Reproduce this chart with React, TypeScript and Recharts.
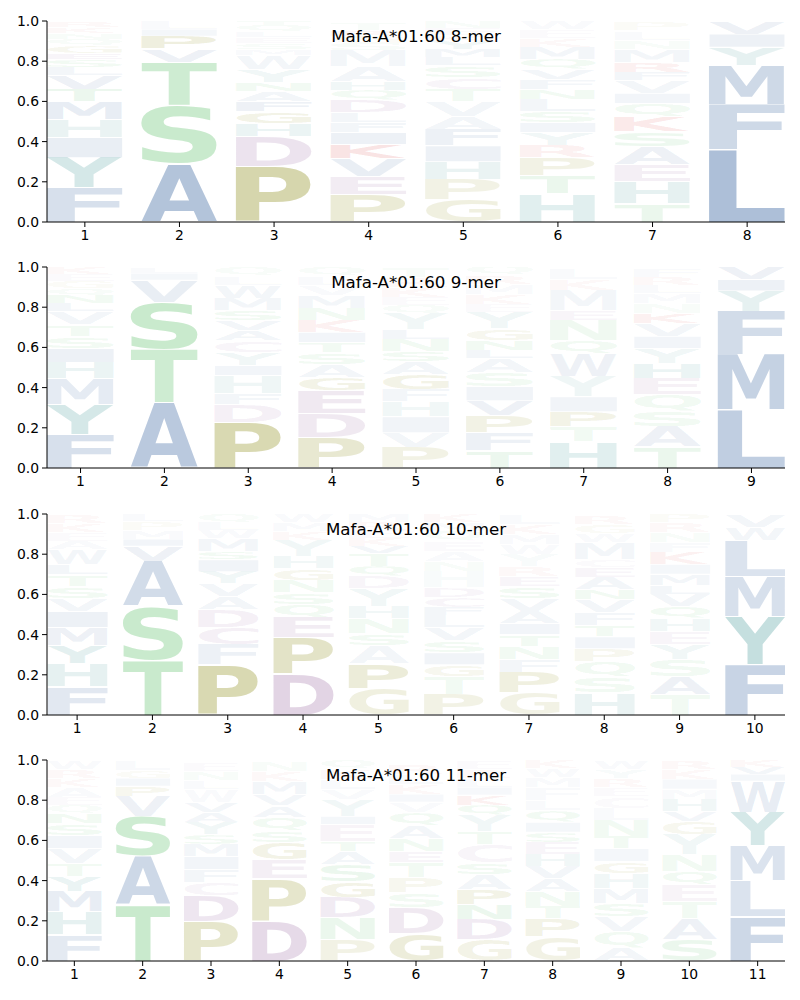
import React from 'react'
import { BarChart, Bar, XAxis, YAxis } from 'recharts'

// [letter, frequency, emphasis] – stacked bottom to top for each position
type Cell = [string, number, number]

const mer8Columns: Cell[][] = [
  [['F', .17, .22], ['Y', .15, .2], ['I', .10, .12], ['H', .09, .1], ['M', .09, .12], ['T', .06, .1], ['V', .07, .1], ['L', .04, .06], ['S', .04, .06], ['E', .03, .06], ['G', .04, .06], ['Q', .03, .05], ['N', .03, .05], ['K', .03, .05], ['R', .03, .05]],
  [['A', .29, .42], ['S', .29, .28], ['T', .215, .25], ['V', .065, .1], ['P', .065, .12], ['I', .035, .06], ['L', .04, .05]],
  [['P', .275, .32], ['D', .15, .18], ['H', .065, .1], ['G', .06, .1], ['F', .05, .1], ['A', .05, .08], ['N', .045, .08], ['Y', .065, .08], ['W', .07, .07], ['M', .03, .05], ['S', .03, .05], ['E', .03, .05], ['L', .03, .05], ['Q', .03, .05], ['T', .02, .04]],
  [['P', .135, .16], ['E', .09, .12], ['V', .09, .12], ['K', .07, .12], ['I', .06, .1], ['F', .05, .08], ['L', .05, .06], ['D', .06, .1], ['Q', .05, .06], ['H', .045, .06], ['A', .075, .08], ['M', .08, .06], ['S', .035, .05], ['G', .035, .05], ['R', .03, .05], ['T', .035, .05]],
  [['G', .11, .12], ['P', .10, .1], ['H', .09, .1], ['I', .08, .1], ['F', .08, .1], ['A', .065, .08], ['V', .075, .08], ['T', .06, .07], ['C', .06, .07], ['S', .06, .07], ['L', .04, .06], ['M', .04, .06], ['Y', .04, .06], ['K', .03, .05], ['E', .035, .05], ['N', .035, .05]],
  [['H', .14, .14], ['T', .09, .1], ['P', .09, .1], ['R', .06, .08], ['Y', .065, .08], ['I', .05, .07], ['S', .055, .07], ['L', .06, .06], ['N', .05, .06], ['F', .05, .06], ['V', .05, .06], ['Q', .05, .06], ['M', .06, .06], ['K', .045, .05], ['E', .045, .05], ['W', .045, .05]],
  [['T', .09, .1], ['H', .11, .12], ['E', .085, .1], ['A', .09, .1], ['S', .075, .09], ['K', .075, .1], ['Q', .065, .08], ['I', .05, .07], ['V', .065, .07], ['F', .04, .06], ['R', .05, .07], ['M', .065, .06], ['N', .045, .05], ['L', .045, .05], ['P', .045, .05]],
  [['L', .36, .45], ['F', .225, .27], ['M', .195, .27], ['Y', .09, .12], ['I', .065, .1], ['V', .06, .1]],
]

const mer9Columns: Cell[][] = [
  [['F', .165, .22], ['Y', .15, .2], ['M', .13, .14], ['H', .08, .1], ['I', .07, .1], ['S', .06, .08], ['T', .06, .07], ['V', .065, .08], ['L', .04, .06], ['N', .04, .06], ['Q', .035, .05], ['G', .035, .05], ['E', .035, .05], ['K', .035, .05]],
  [['A', .325, .38], ['T', .265, .25], ['S', .235, .28], ['V', .11, .12], ['I', .035, .06], ['L', .03, .05]],
  [['P', .225, .3], ['D', .09, .1], ['F', .055, .08], ['H', .09, .08], ['I', .05, .07], ['Y', .065, .07], ['C', .06, .08], ['A', .05, .07], ['V', .05, .07], ['S', .05, .07], ['M', .06, .06], ['W', .065, .07], ['L', .045, .05], ['Q', .045, .05]],
  [['P', .15, .18], ['D', .12, .14], ['E', .115, .14], ['G', .065, .09], ['A', .065, .08], ['S', .06, .08], ['T', .05, .07], ['I', .05, .07], ['K', .06, .08], ['N', .06, .07], ['M', .065, .06], ['V', .05, .05], ['L', .045, .05], ['Q', .045, .05]],
  [['P', .1, .1], ['V', .075, .08], ['I', .08, .08], ['H', .075, .08], ['F', .06, .07], ['G', .075, .09], ['A', .065, .07], ['S', .05, .07], ['N', .06, .07], ['L', .05, .06], ['Y', .08, .06], ['Q', .04, .05], ['E', .04, .05], ['K', .05, .05], ['R', .05, .05], ['T', .05, .05]],
  [['T', .085, .09], ['F', .09, .1], ['P', .085, .1], ['V', .075, .09], ['I', .07, .08], ['S', .07, .08], ['A', .07, .08], ['L', .04, .06], ['N', .05, .07], ['G', .06, .07], ['Y', .08, .07], ['E', .04, .05], ['K', .05, .05], ['M', .05, .05], ['R', .045, .05], ['Q', .045, .05]],
  [['H', .13, .14], ['T', .075, .08], ['P', .075, .09], ['I', .075, .08], ['Y', .1, .08], ['W', .115, .09], ['Q', .065, .07], ['N', .1, .08], ['E', .05, .06], ['M', .1, .06], ['K', .055, .05], ['L', .055, .05]],
  [['T', .105, .1], ['A', .1, .1], ['S', .08, .08], ['Q', .08, .08], ['E', .08, .09], ['H', .075, .1], ['Y', .075, .08], ['I', .06, .07], ['V', .065, .07], ['K', .05, .08], ['N', .05, .05], ['M', .05, .05], ['L', .04, .05], ['R', .04, .05], ['F', .04, .05]],
  [['L', .29, .35], ['M', .275, .32], ['F', .215, .25], ['Y', .1, .12], ['I', .058, .1], ['V', .065, .1]],
]

const mer10Columns: Cell[][] = [
  [['F', .14, .16], ['H', .115, .12], ['Y', .09, .12], ['M', .09, .1], ['I', .08, .1], ['V', .065, .08], ['S', .06, .07], ['T', .06, .07], ['L', .05, .06], ['W', .075, .06], ['A', .04, .05], ['E', .045, .05], ['K', .045, .05], ['R', .04, .05]],
  [['T', .275, .28], ['S', .265, .28], ['A', .225, .25], ['V', .075, .1], ['I', .035, .07], ['M', .045, .05], ['P', .045, .05], ['L', .04, .05]],
  [['P', .25, .3], ['F', .1, .1], ['C', .083, .1], ['D', .09, .1], ['A', .065, .08], ['V', .065, .08], ['Y', .06, .07], ['I', .06, .08], ['S', .04, .06], ['M', .065, .06], ['W', .04, .05], ['L', .04, .05], ['Q', .04, .05]],
  [['D', .205, .28], ['P', .18, .22], ['E', .1, .12], ['Q', .065, .08], ['S', .06, .07], ['N', .06, .07], ['G', .06, .07], ['H', .06, .07], ['Y', .08, .06], ['K', .045, .05], ['M', .045, .05], ['W', .04, .05]],
  [['G', .13, .12], ['P', .125, .15], ['A', .09, .08], ['S', .06, .08], ['N', .075, .08], ['H', .06, .08], ['Y', .09, .08], ['D', .06, .07], ['Q', .05, .06], ['T', .065, .06], ['V', .035, .06], ['K', .04, .05], ['E', .04, .05], ['R', .04, .05], ['M', .04, .05]],
  [['P', .1, .1], ['T', .09, .08], ['G', .06, .08], ['I', .06, .08], ['S', .06, .07], ['V', .065, .07], ['L', .06, .06], ['F', .04, .06], ['C', .05, .06], ['D', .05, .06], ['H', .08, .05], ['N', .05, .05], ['A', .05, .05], ['E', .05, .05], ['Q', .05, .05], ['M', .045, .05], ['K', .045, .05]],
  [['G', .11, .1], ['P', .1, .12], ['F', .065, .08], ['N', .065, .08], ['T', .06, .07], ['I', .055, .07], ['A', .06, .07], ['V', .065, .07], ['S', .06, .07], ['E', .05, .06], ['R', .05, .05], ['Y', .06, .05], ['W', .05, .05], ['M', .05, .05], ['K', .05, .05], ['L', .055, .05]],
  [['H', .11, .1], ['S', .08, .08], ['Q', .075, .08], ['P', .065, .07], ['I', .06, .07], ['T', .055, .07], ['F', .065, .07], ['V', .065, .07], ['N', .05, .06], ['A', .06, .06], ['E', .05, .06], ['C', .04, .05], ['M', .085, .06], ['W', .045, .05], ['G', .045, .05], ['R', .045, .05]],
  [['T', .1, .08], ['A', .09, .09], ['S', .085, .08], ['Y', .075, .08], ['E', .065, .07], ['H', .065, .07], ['Q', .06, .07], ['V', .06, .07], ['L', .045, .06], ['M', .055, .06], ['I', .05, .06], ['K', .06, .06], ['F', .05, .05], ['N', .05, .05], ['R', .05, .05], ['P', .045, .05]],
  [['F', .25, .3], ['Y', .24, .28], ['M', .2, .22], ['L', .18, .2], ['W', .065, .08], ['V', .065, .08]],
]

const mer11Columns: Cell[][] = [
  [['F', .13, .15], ['H', .115, .12], ['M', .1, .12], ['Y', .075, .1], ['T', .065, .08], ['V', .075, .08], ['I', .065, .07], ['S', .06, .07], ['N', .05, .06], ['Q', .04, .05], ['E', .04, .05], ['A', .05, .05], ['K', .045, .05], ['R', .045, .05], ['W', .045, .05]],
  [['T', .28, .28], ['A', .24, .28], ['S', .2, .25], ['V', .1, .1], ['P', .05, .08], ['I', .04, .06], ['G', .04, .05], ['L', .05, .05]],
  [['P', .195, .2], ['D', .13, .16], ['C', .065, .08], ['F', .065, .07], ['I', .065, .07], ['M', .06, .07], ['S', .05, .06], ['Y', .06, .06], ['A', .05, .06], ['V', .05, .06], ['W', .065, .05], ['L', .045, .05], ['N', .045, .05], ['E', .045, .05]],
  [['D', .2, .24], ['P', .21, .2], ['E', .095, .1], ['G', .085, .1], ['S', .06, .07], ['Q', .065, .07], ['A', .06, .06], ['V', .055, .06], ['M', .065, .06], ['K', .05, .05], ['N', .05, .05]],
  [['P', .105, .1], ['N', .11, .1], ['D', .1, .12], ['G', .08, .1], ['S', .085, .09], ['A', .065, .07], ['T', .05, .07], ['E', .085, .07], ['I', .04, .06], ['Y', .085, .06], ['V', .05, .05], ['L', .05, .05], ['K', .05, .05], ['Q', .05, .05]],
  [['G', .135, .14], ['D', .13, .14], ['S', .075, .08], ['P', .075, .08], ['T', .075, .08], ['E', .055, .06], ['N', .065, .06], ['A', .065, .06], ['Q', .065, .06], ['V', .05, .05], ['I', .04, .05], ['K', .05, .05], ['L', .05, .05], ['R', .05, .05]],
  [['G', .105, .1], ['D', .1, .12], ['N', .075, .09], ['P', .075, .1], ['A', .075, .08], ['S', .06, .08], ['C', .09, .08], ['T', .065, .07], ['Y', .08, .06], ['Q', .05, .06], ['K', .05, .06], ['I', .04, .05], ['L', .045, .05], ['R', .045, .05], ['E', .045, .05]],
  [['G', .12, .1], ['P', .09, .1], ['T', .06, .08], ['N', .075, .08], ['A', .065, .07], ['V', .06, .07], ['H', .06, .07], ['E', .06, .06], ['S', .05, .06], ['I', .05, .06], ['Q', .06, .06], ['L', .05, .05], ['F', .065, .05], ['M', .05, .05], ['W', .045, .05], ['K', .045, .05]],
  [['A', .065, .07], ['Q', .08, .07], ['V', .075, .07], ['S', .065, .07], ['M', .075, .07], ['H', .075, .07], ['G', .06, .07], ['I', .065, .06], ['T', .06, .06], ['N', .08, .06], ['L', .06, .05], ['C', .06, .05], ['E', .045, .05], ['R', .045, .05], ['Y', .045, .05], ['W', .045, .05]],
  [['S', .105, .1], ['A', .105, .09], ['T', .085, .08], ['E', .085, .07], ['Q', .065, .07], ['N', .085, .07], ['Y', .1, .07], ['G', .065, .07], ['V', .05, .06], ['H', .06, .06], ['M', .05, .05], ['I', .05, .05], ['K', .05, .05], ['R', .05, .05]],
  [['F', .22, .28], ['L', .18, .2], ['M', .175, .2], ['Y', .165, .2], ['W', .155, .14], ['I', .035, .06], ['V', .035, .06], ['K', .035, .05]],
]

const titles = ['Mafa-A*01:60 8-mer', 'Mafa-A*01:60 9-mer', 'Mafa-A*01:60 10-mer', 'Mafa-A*01:60 11-mer']
const yTicks = [0, 0.2, 0.4, 0.6, 0.8, 1]

const BLUE = '#4a72a8'
const TEAL = '#2e8b8b'
const GREEN = '#3cb44b'
const OLIVE = '#808000'
const PURPLE = '#96649f'
const RED = '#d62728'

const COLORS: Record<string, string> = {
  A: BLUE, V: BLUE, L: BLUE, I: BLUE, M: BLUE, F: BLUE, W: BLUE,
  Y: TEAL, H: TEAL,
  S: GREEN, T: GREEN, N: GREEN, Q: GREEN,
  P: OLIVE, G: OLIVE,
  D: PURPLE, E: PURPLE, C: PURPLE,
  K: RED, R: RED,
}

const FONT = 'DejaVu Sans, sans-serif'

const PLOT_LEFT = 47
const PLOT_W = 738
const PLOT_H = 201
const MARGIN_TOP = 10
const AXIS_H = 30
const PANEL_STEP = 246.33

// ink box of each glyph at 100px, so a letter can be stretched to fill its cell
type Ink = { left: number; right: number; ascent: number; descent: number }
const inkCache: Record<string, Ink> = {}
let measureCtx: CanvasRenderingContext2D | null = null

function inkOf(letter: string): Ink {
  if (inkCache[letter]) return inkCache[letter]
  let ink: Ink = { left: 5, right: 70, ascent: 72.9, descent: 0 }
  try {
    if (!measureCtx) measureCtx = document.createElement('canvas').getContext('2d')
    if (measureCtx) {
      measureCtx.font = `bold 100px ${FONT}`
      const m = measureCtx.measureText(letter)
      ink = {
        left: -m.actualBoundingBoxLeft,
        right: m.actualBoundingBoxRight,
        ascent: m.actualBoundingBoxAscent,
        descent: m.actualBoundingBoxDescent,
      }
    }
  } catch (e) {
    // keep fallback
  }
  inkCache[letter] = ink
  return ink
}

function Glyph(props: any) {
  const { x, y, width, height, cell } = props
  if (!cell || !(height > 0.5) || !(width > 0)) return <g />
  const [letter, , alpha] = cell as Cell
  const ink = inkOf(letter)
  const pad = Math.min(0.5, height * 0.05)
  const h = height - pad * 2
  const sx = width / (ink.right - ink.left)
  const sy = h / (ink.ascent + ink.descent)
  const tx = x - ink.left * sx
  const ty = y + pad + ink.ascent * sy
  return (
    <text
      transform={`translate(${tx},${ty}) scale(${sx},${sy})`}
      x={0}
      y={0}
      fontSize={100}
      fontFamily={FONT}
      fontWeight="bold"
      fill={COLORS[letter] || BLUE}
      fillOpacity={alpha}
    >
      {letter}
    </text>
  )
}

const LogoPanel: React.FC<{ cols: Cell[][]; title: string; top: number }> = ({ cols, title, top }) => {
  const n = cols.length
  const positions = cols.map((_, i) => i + 1)
  const layers = Math.max(...cols.map((c) => c.length))
  const data = cols.map((c, i) => {
    const row: Record<string, number> = { pos: i + 1 }
    for (let k = 0; k < layers; k++) row[`h${k}`] = c[k] ? c[k][1] : 0
    return row
  })
  const spacing = PLOT_W / (n - 0.2)
  const barSize = spacing * 0.8

  return (
    <div style={{ position: 'absolute', left: 0, top, width: 800 }}>
      <BarChart
        width={800}
        height={MARGIN_TOP + PLOT_H + AXIS_H}
        data={data}
        margin={{ top: MARGIN_TOP, right: 800 - PLOT_LEFT - PLOT_W, bottom: 0, left: 7 }}
        barSize={barSize}
        barGap={0}
      >
        <XAxis
          type="number"
          dataKey="pos"
          domain={[0.6, n + 0.4]}
          ticks={positions}
          interval={0}
          allowDataOverflow
          height={AXIS_H}
          tickSize={5}
          tickMargin={3}
          stroke="#000"
          tick={{ fill: '#000', fontSize: 13.9, fontFamily: FONT }}
        />
        <YAxis
          type="number"
          domain={[0, 1]}
          ticks={yTicks}
          allowDataOverflow
          width={40}
          tickSize={5}
          tickMargin={3}
          stroke="#000"
          tickFormatter={(v: number) => v.toFixed(1)}
          tick={{ fill: '#000', fontSize: 13.9, fontFamily: FONT }}
        />
        {Array.from({ length: layers }, (_, k) => (
          <Bar
            key={k}
            dataKey={`h${k}`}
            stackId="logo"
            isAnimationActive={false}
            shape={(p: any) => <Glyph {...p} cell={cols[p.index] ? cols[p.index][k] : undefined} />}
          />
        ))}
      </BarChart>
      <div
        style={{
          position: 'absolute',
          left: PLOT_LEFT,
          width: PLOT_W,
          top: MARGIN_TOP + 5,
          textAlign: 'center',
          fontFamily: FONT,
          fontSize: 16.7,
          color: '#000',
          whiteSpace: 'nowrap',
        }}
      >
        {title}
      </div>
    </div>
  )
}

export default function App() {
  const panels = [mer8Columns, mer9Columns, mer10Columns, mer11Columns]
  return (
    <div style={{ position: 'absolute', left: 0, top: 0, width: 800, height: 1000, background: '#fff' }}>
      {panels.map((cols, i) => (
        <LogoPanel key={i} cols={cols} title={titles[i]} top={11 + i * PANEL_STEP} />
      ))}
    </div>
  )
}
